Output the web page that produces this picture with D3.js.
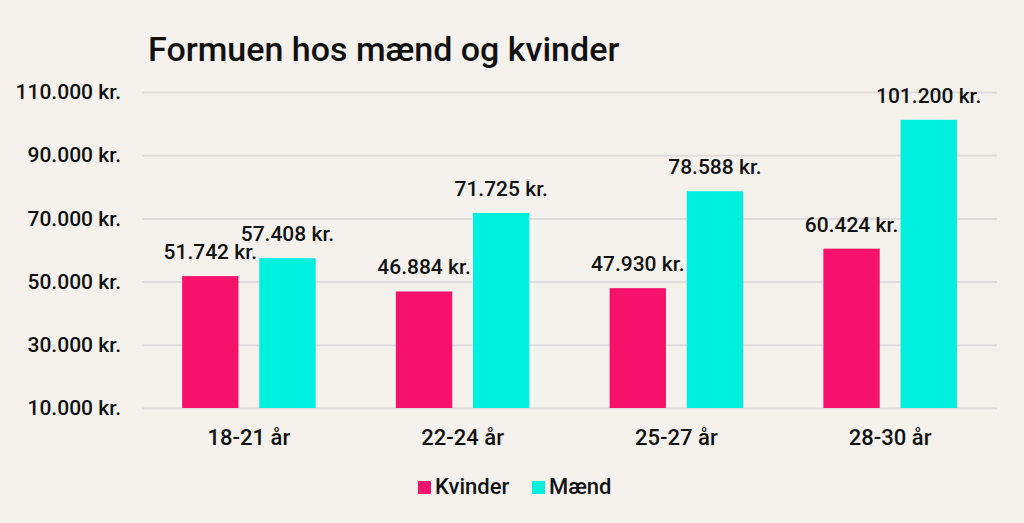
<!DOCTYPE html>
<html>
<head>
<meta charset="utf-8">
<script src="https://cdn.jsdelivr.net/npm/d3@7"></script>
<style>
  html, body { margin: 0; padding: 0; background: #f5f2ee; }
  svg { display: block; font-family: Roboto, "Liberation Sans", Arial, sans-serif; font-weight: 500; }
</style>
</head>
<body>
<svg id="chart" width="1024" height="523"></svg>
<script>
const categories = ["18-21 år", "22-24 år", "25-27 år", "28-30 år"];
const series = ["Kvinder", "Mænd"];
const kvinder = [51742, 46884, 47930, 60424];
const maend = [57408, 71725, 78588, 101200];
const yTicks = [10000, 30000, 50000, 70000, 90000, 110000];
const colors = ["#f6126b", "#00f0df"];

const svg = d3.select("#chart");
const margin = { top: 92, right: 27, bottom: 115, left: 142 };
const width = +svg.attr("width") - margin.left - margin.right;
const height = +svg.attr("height") - margin.top - margin.bottom;
const font = "Roboto, Liberation Sans, Arial, sans-serif";

const dk = d3.formatLocale({ decimal: ",", thousands: ".", grouping: [3], currency: ["", " kr."] });
const fmt = v => dk.format(",")(v) + " kr.";

svg.append("rect").attr("width", 1024).attr("height", 523).attr("fill", "#f5f2ee");

svg.append("text")
    .attr("x", 148)
    .attr("y", 61)
    .attr("font-size", 34)
    .attr("fill", "#111")
    .text("Formuen hos mænd og kvinder");

const g = svg.append("g").attr("transform", "translate(" + margin.left + "," + margin.top + ")");

const x0 = d3.scaleBand().domain(categories).range([0, width]);
const x1 = d3.scaleBand().domain(series).range([0, x0.bandwidth()]).paddingInner(0.27).paddingOuter(0.52);
const y = d3.scaleLinear().domain([10000, 110000]).range([height, 0]);

// gridlines + y labels
const yAxis = g.append("g")
    .call(d3.axisLeft(y).tickValues(yTicks).tickSize(-width).tickPadding(21).tickFormat(fmt));
yAxis.select(".domain").remove();
yAxis.selectAll(".tick line").attr("stroke", "#e0dcdb").attr("stroke-width", 2);
yAxis.selectAll(".tick text").attr("font-size", 21).attr("fill", "#111").attr("font-family", font);

// x labels
const xAxis = g.append("g")
    .attr("transform", "translate(0," + height + ")")
    .call(d3.axisBottom(x0).tickSize(0).tickPadding(21));
xAxis.select(".domain").remove();
xAxis.selectAll(".tick text").attr("font-size", 22).attr("fill", "#111").attr("font-family", font);

const rows = categories.map((c, i) => ({ cat: c, vals: [kvinder[i], maend[i]] }));

const groups = g.selectAll(".grp")
    .data(rows)
    .enter().append("g")
    .attr("transform", d => "translate(" + x0(d.cat) + ",0)");

const cells = groups.selectAll(".cell")
    .data(d => d.vals.map((v, j) => ({ key: series[j], value: v, j: j })))
    .enter();

cells.append("rect")
    .attr("x", d => x1(d.key))
    .attr("y", d => y(d.value))
    .attr("width", x1.bandwidth())
    .attr("height", d => height - y(d.value))
    .attr("fill", d => colors[d.j]);

cells.append("text")
    .attr("x", d => x1(d.key) + x1.bandwidth() / 2)
    .attr("y", d => y(d.value) - 17)
    .attr("text-anchor", "middle")
    .attr("font-size", 21)
    .attr("fill", "#111")
    .text(d => fmt(d.value));

// legend
const legendX = [418, 532];
const legend = svg.append("g");
series.forEach((s, j) => {
    legend.append("rect")
        .attr("x", legendX[j]).attr("y", 481)
        .attr("width", 13).attr("height", 13)
        .attr("fill", colors[j]);
    legend.append("text")
        .attr("x", legendX[j] + 17).attr("y", 494)
        .attr("font-size", 22)
        .attr("fill", "#111")
        .text(s);
});
</script>
</body>
</html>
